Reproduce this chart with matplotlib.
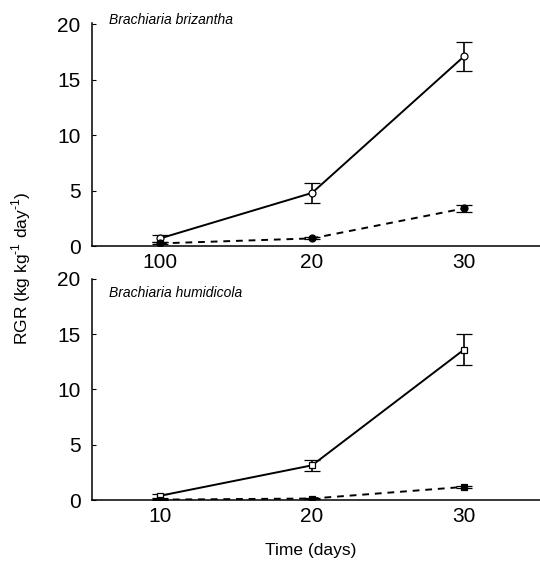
import matplotlib.pyplot as plt

plt.rcParams['font.family'] = ['Liberation Sans', 'DejaVu Sans']
plt.rcParams['mathtext.fontset'] = 'custom'
plt.rcParams['mathtext.rm'] = 'Liberation Sans'

# sampling days
days = [10, 20, 30]
day_labels_top = ['100', '20', '30']   # as printed in the original
day_labels_bottom = ['10', '20', '30']

# Brachiaria brizantha
briz_open = [0.7, 4.8, 17.1]
briz_open_err = [0.3, 0.9, 1.3]
briz_filled = [0.25, 0.7, 3.4]
briz_filled_err = [0.1, 0.1, 0.35]

# Brachiaria humidicola
humi_open = [0.4, 3.15, 13.6]
humi_open_err = [0.2, 0.5, 1.4]
humi_filled = [0.05, 0.15, 1.2]
humi_filled_err = [0.05, 0.05, 0.12]

fig = plt.figure(figsize=(5.4, 5.62), dpi=100)
ax1 = fig.add_axes([0.170, 0.562, 0.830, 0.397])
ax2 = fig.add_axes([0.170, 0.110, 0.830, 0.394])

eb = dict(color='black', capsize=5.5, elinewidth=1.2, capthick=1.2,
          linewidth=1.4, markersize=5, markeredgewidth=0.9)


def style(ax, labels):
    for s in ['top', 'right']:
        ax.spines[s].set_visible(False)
    ax.spines['left'].set_linewidth(1.1)
    ax.spines['bottom'].set_linewidth(1.1)
    ax.set_xlim(5.5, 35)
    ax.set_yticks([0, 5, 10, 15, 20])
    ax.set_xticks(days)
    ax.set_xticklabels(labels)
    ax.tick_params(axis='y', direction='in', length=3, labelsize=15, pad=8)
    ax.tick_params(axis='x', length=0, labelsize=15, pad=5)


ax1.errorbar(days, briz_open, yerr=briz_open_err, fmt='o-',
             markerfacecolor='white', zorder=3, **eb)
ax1.errorbar(days, briz_filled, yerr=briz_filled_err, fmt='o',
             markerfacecolor='black', zorder=3, **eb)
ax1.plot(days, briz_filled, color='black', linewidth=1.4,
         linestyle=(0, (3.5, 3)), zorder=2)
style(ax1, day_labels_top)
ax1.set_ylim(0, 20.1)

ax2.errorbar(days, humi_open, yerr=humi_open_err, fmt='s-',
             markerfacecolor='white', zorder=3, **eb)
ax2.errorbar(days, humi_filled, yerr=humi_filled_err, fmt='s',
             markerfacecolor='black', zorder=3, **eb)
ax2.plot(days, humi_filled, color='black', linewidth=1.4,
         linestyle=(0, (3.5, 3)), zorder=2)
style(ax2, day_labels_bottom)
ax2.set_ylim(0, 20.0)

fig.text(109 / 540, 1 - 20 / 562, 'Brachiaria brizantha', fontsize=10,
         style='italic', ha='left', va='center')
fig.text(109 / 540, 1 - 293 / 562, 'Brachiaria humidicola', fontsize=10,
         style='italic', ha='left', va='center')

fig.text(0.040, 1 - 268 / 562, r'RGR (kg kg$^{\text{-1}}$ day$^{\text{-1}}$)',
         rotation=90, ha='center', va='center', fontsize=12.5)
fig.text(0.17 + 0.83 * (311 - 92) / 448, 1 - 551 / 562, 'Time (days)',
         ha='center', va='center', fontsize=12.5)

fig.savefig('out.png', dpi=100)
